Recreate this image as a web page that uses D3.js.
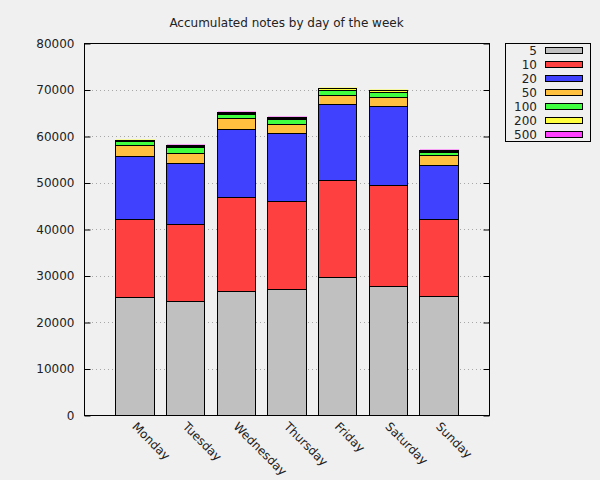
<!DOCTYPE html>
<html>
<head>
<meta charset="utf-8">
<script src="https://cdn.jsdelivr.net/npm/d3@7"></script>
<style>
  html, body { margin: 0; padding: 0; background: #f0f0f0; }
  svg { display: block; font-family: "DejaVu Sans", sans-serif; }
</style>
</head>
<body>
<svg id="chart" width="600" height="480"></svg>
<script>
const days = ["Monday", "Tuesday", "Wednesday", "Thursday", "Friday", "Saturday", "Sunday"];
const notes = ["5", "10", "20", "50", "100", "200", "500"];
const noteColors = ["#c0c0c0", "#ff4040", "#4040ff", "#ffc040", "#40ff40", "#ffff40", "#ff40ff"];
const v5   = [25300, 24450, 26600, 27030, 29610, 27680, 25530];
const v10  = [16790, 16560, 20220, 18920, 20860, 21720, 16560];
const v20  = [13670, 13080, 14750, 14800, 16340, 17050, 11570];
const v50  = [2240, 2190, 2230, 1770, 1940, 2000, 2150];
const v100 = [1030, 1290, 1000, 1030, 1080, 940, 810];
const v200 = [80, 280, 230, 320, 450, 400, 230];
const v500 = [30, 250, 200, 280, 110, 100, 200];
const yTicks = [0, 10000, 20000, 30000, 40000, 50000, 60000, 70000, 80000];
const title = "Accumulated notes by day of the week";

const series = [v5, v10, v20, v50, v100, v200, v500];
const rows = days.map((d, i) => {
  const r = { day: d, idx: i };
  notes.forEach((n, k) => r[n] = series[k][i]);
  return r;
});
const stacked = d3.stack().keys(notes)(rows);

const svg = d3.select("#chart");
const L = 84, R = 489, T = 43, B = 415;
const x = d3.scaleLinear().domain([-1, 7]).range([L, R]);
const y = d3.scaleLinear().domain([0, 80000]).range([B, T]);
const barHalf = 0.38;

svg.append("rect").attr("width", 600).attr("height", 480).attr("fill", "#f0f0f0");

// grid
svg.append("g").selectAll("line").data(yTicks.slice(1, -1)).join("line")
  .attr("x1", L).attr("x2", R)
  .attr("y1", d => Math.round(y(d)) + 0.5).attr("y2", d => Math.round(y(d)) + 0.5)
  .attr("stroke", "#a8a8a8").attr("stroke-width", 1).attr("stroke-dasharray", "1,3");

// bars
const layers = svg.append("g").selectAll("g").data(stacked).join("g");
layers.each(function(layer, k) {
  const g = d3.select(this);
  g.selectAll("rect.sh").data(layer).join("rect").attr("class", "sh")
    .attr("x", (d, i) => Math.round(x(i - barHalf)) + 1)
    .attr("y", d => Math.round(y(d[1])) - 1)
    .attr("width", (d, i) => Math.round(x(i + barHalf)) - Math.round(x(i - barHalf)))
    .attr("height", d => Math.max(0, Math.round(y(d[0])) - Math.round(y(d[1]))))
    .attr("fill", noteColors[k]).attr("opacity", 0.45);
});
layers.each(function(layer, k) {
  const g = d3.select(this);
  g.selectAll("rect.b").data(layer).join("rect").attr("class", "b")
    .attr("x", (d, i) => Math.round(x(i - barHalf)) + 0.5)
    .attr("y", d => Math.round(y(d[1])) + 0.5)
    .attr("width", (d, i) => Math.round(x(i + barHalf)) - Math.round(x(i - barHalf)))
    .attr("height", d => Math.max(0, Math.round(y(d[0])) - Math.round(y(d[1]))))
    .attr("fill", noteColors[k]).attr("stroke", "#000").attr("stroke-width", 1);
});

// frame
svg.append("rect").attr("x", L + 0.5).attr("y", T + 0.5).attr("width", R - L).attr("height", B - T)
  .attr("fill", "none").attr("stroke", "#000").attr("stroke-width", 1);

// y axis (ticks inward) left and right mirrored
const yAxisL = d3.axisLeft(y).tickValues(yTicks).tickSize(-6).tickPadding(10).tickFormat(d3.format("d"));
const gl = svg.append("g").attr("transform", `translate(${L + 0.5},0.5)`).call(yAxisL);
gl.select(".domain").remove();
gl.selectAll("text").attr("font-size", 12).attr("fill", "#222").attr("font-family", "DejaVu Sans, sans-serif");
const yAxisR = d3.axisRight(y).tickValues(yTicks).tickSize(-6).tickFormat("");
const gr = svg.append("g").attr("transform", `translate(${R + 0.5},0.5)`).call(yAxisR);
gr.select(".domain").remove();

// x labels, rotated
const xAxis = d3.axisBottom(x).tickValues(d3.range(days.length)).tickSize(0).tickFormat(i => days[i]);
const gx = svg.append("g").attr("transform", `translate(0,${B})`).call(xAxis);
gx.select(".domain").remove();
gx.selectAll("text")
  .attr("font-size", 12).attr("fill", "#222").attr("font-family", "DejaVu Sans, sans-serif")
  .attr("text-anchor", "start")
  .attr("x", -1).attr("y", 0).attr("dy", "0.35em")
  .attr("transform", "translate(0,10) rotate(45)");

// title
svg.append("text").attr("x", (L + R) / 2).attr("y", 27).attr("text-anchor", "middle")
  .attr("font-size", 12).attr("fill", "#222").text(title);

// legend
const lg = svg.append("g");
lg.append("rect").attr("x", 505.5).attr("y", 43.5).attr("width", 85).attr("height", 98)
  .attr("fill", "#f0f0f0").attr("stroke", "#000").attr("stroke-width", 1);
const ly = d3.scalePoint().domain(notes).range([50.5, 134.5]);
const items = lg.selectAll("g").data(notes).join("g");
items.append("text").attr("x", 537).attr("y", d => ly(d)).attr("dy", "0.35em")
  .attr("text-anchor", "end").attr("font-size", 12).attr("fill", "#222").text(d => d);
items.append("rect").attr("x", 545.5).attr("y", d => ly(d) - 3).attr("width", 37).attr("height", 6)
  .attr("fill", (d, k) => noteColors[k]).attr("stroke", "#000").attr("stroke-width", 1);
</script>
</body>
</html>
